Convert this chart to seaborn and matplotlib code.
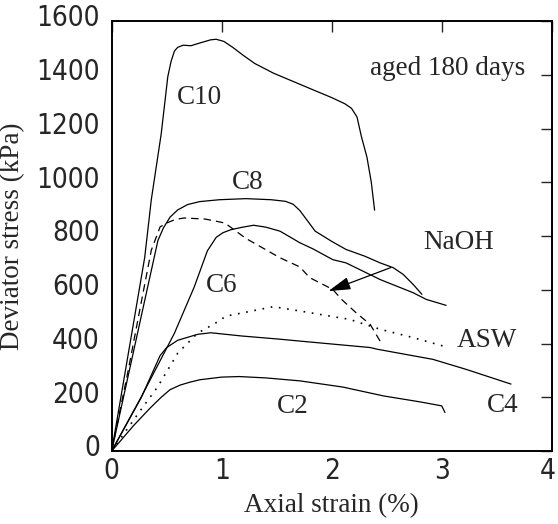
import matplotlib
matplotlib.use("Agg")
import matplotlib.pyplot as plt
import matplotlib.transforms as mtransforms
from matplotlib import font_manager
from matplotlib.font_manager import FontProperties
import pandas as pd
import seaborn as sns

# Stress-strain curves (axial strain %, deviator stress kPa)
c10_strain = [0, 0.1, 0.2, 0.3, 0.36, 0.45, 0.51, 0.54, 0.57, 0.6, 0.65, 0.72, 0.8, 0.9, 0.95, 1.02,
              1.1, 1.19, 1.3, 1.47, 1.65, 1.83, 2.0, 2.12, 2.18, 2.23, 2.27, 2.32, 2.36, 2.39]
c10_stress = [0, 240, 480, 720, 935, 1180, 1393, 1450, 1488, 1502, 1510, 1508, 1518, 1530, 1532, 1524,
              1502, 1474, 1442, 1406, 1375, 1344, 1315, 1292, 1275, 1243, 1170, 1094, 1000, 896]

c8_strain = [0, 0.15, 0.3, 0.42, 0.47, 0.53, 0.6, 0.69, 0.8, 0.98, 1.22, 1.45, 1.58, 1.65, 1.71,
             1.77, 1.85, 2.0, 2.13, 2.3, 2.44, 2.56, 2.65, 2.74, 2.82]
c8_stress = [0, 280, 560, 783, 830, 870, 897, 917, 928, 935, 939, 935, 929, 918, 895,
             862, 818, 780, 750, 725, 700, 682, 657, 620, 583]

naoh_strain = [0, 0.15, 0.3, 0.36, 0.44, 0.51, 0.58, 0.66, 0.85, 0.95, 1.03, 1.22, 1.53, 1.71,
               1.8, 2.01, 2.09, 2.22, 2.35, 2.44]
naoh_stress = [0, 300, 620, 747, 834, 850, 862, 867, 863, 855, 848, 791, 719, 685,
               645, 601, 564, 515, 471, 409]

c6_strain = [0, 0.27, 0.57, 0.75, 0.87, 0.95, 1.01, 1.08, 1.18, 1.29, 1.4, 1.53, 1.71, 1.83,
             2.01, 2.13, 2.44, 2.74, 2.86, 3.04]
c6_stress = [0, 202, 438, 610, 745, 795, 812, 823, 832, 840, 833, 818, 775, 752,
             712, 700, 638, 589, 564, 542]

asw_strain = [0, 0.24, 0.42, 0.6, 0.78, 0.94, 1.04, 1.24, 1.47, 1.53, 1.71, 2.07, 2.16, 2.44,
              2.74, 3.01]
asw_stress = [0, 139, 240, 364, 438, 475, 502, 518, 537, 533, 521, 496, 490, 453,
              422, 391]

c4_strain = [0, 0.27, 0.44, 0.5, 0.6, 0.78, 0.9, 1.18, 1.53, 1.71, 2.35, 2.41, 2.92, 3.22, 3.63]
c4_stress = [0, 200, 355, 385, 412, 434, 440, 428, 416, 409, 385, 379, 341, 304, 249]

c2_strain = [0, 0.2, 0.35, 0.45, 0.53, 0.62, 0.71, 0.8, 1.0, 1.16, 1.4, 1.71, 2.1, 2.47, 2.8, 3.0, 3.03]
c2_stress = [0, 95, 160, 200, 228, 245, 256, 265, 275, 277, 272, 261, 238, 205, 183, 168, 143]

curve_names = ["C10", "C8", "NaOH", "C6", "ASW", "C4", "C2"]
x_ticks = [0, 1, 2, 3, 4]
y_ticks = [0, 200, 400, 600, 800, 1000, 1200, 1400, 1600]

sns.set_style("white")
serif = "Liberation Serif"
plt.rcParams["font.family"] = [serif, "DejaVu Serif"]


def narrow_sans(size):
    """Pick a narrow sans-serif face for the tick numbers."""
    for f in font_manager.fontManager.ttflist:
        if f.name == "Liberation Sans Narrow" and f.style == "normal" and f.weight in (400, "normal", "regular"):
            return FontProperties(fname=f.fname, size=size)
    for f in font_manager.fontManager.ttflist:
        if f.name == "DejaVu Sans" and f.stretch == "condensed" and f.style == "normal" \
                and f.weight in (400, "normal", "regular", "book"):
            return FontProperties(fname=f.fname, size=size)
    return FontProperties(family="Liberation Sans", size=size - 2)


frames = []
for name, xs, ys in zip(curve_names,
                        [c10_strain, c8_strain, naoh_strain, c6_strain, asw_strain, c4_strain, c2_strain],
                        [c10_stress, c8_stress, naoh_stress, c6_stress, asw_stress, c4_stress, c2_stress]):
    frames.append(pd.DataFrame({"strain": xs, "stress": ys, "curve": name}))
df = pd.concat(frames, ignore_index=True)

fig = plt.figure(figsize=(5.58, 5.24), dpi=100)
ax = fig.add_axes([111.7 / 558, (524 - 451) / 524, 440 / 558, 430 / 524])

styles = {
    "C10": "-", "C8": "-", "C6": "-", "C4": "-", "C2": "-",
    "NaOH": (0, (6, 4)),
    "ASW": (0, (1, 4)),
}
for name in curve_names:
    sub = df[df["curve"] == name]
    sns.lineplot(data=sub, x="strain", y="stress", ax=ax, color="black",
                 linewidth=1.2 if name == "ASW" else 0.9, sort=False,
                 estimator=None, linestyle=styles[name], legend=False)

ax.set_xlim(0, 4)
ax.set_ylim(0, 1600)
ax.set_xticks(x_ticks)
ax.set_yticks(y_ticks)
tick_fp = narrow_sans(20)
ax.set_xticklabels([str(v) for v in x_ticks], fontproperties=tick_fp)
ax.set_yticklabels([str(v) for v in y_ticks], fontproperties=tick_fp)
ax.tick_params(axis="both", direction="in", length=8, width=1.0,
               top=True, right=True, labeltop=False, labelright=False)
ax.tick_params(axis="y", pad=8.5)
ax.tick_params(axis="x", pad=4)
shift = mtransforms.ScaledTranslation(0, 4 / 72, fig.dpi_scale_trans)
for lab in ax.get_yticklabels():
    lab.set_transform(lab.get_transform() + shift)
# keep the last strain label inside the figure edge
last = ax.get_xticklabels()[-1]
last.set_transform(last.get_transform()
                   + mtransforms.ScaledTranslation(-3 / 72, 0, fig.dpi_scale_trans))

for sp in ax.spines.values():
    sp.set_visible(True)
    sp.set_color("black")
    sp.set_linewidth(1.4)

ax.set_xlabel("Axial strain (%)", fontsize=19.5, labelpad=6)
ax.set_ylabel("Deviator stress (kPa)", fontsize=19.5, labelpad=8)

label_pos = {
    "C10": (0.80, 1316), "C8": (1.24, 1000), "C6": (1.0, 617),
    "ASW": (3.41, 413), "C2": (1.65, 164), "C4": (3.55, 171),
}
for name, (tx, ty) in label_pos.items():
    ax.text(tx, ty, name, fontsize=19.5, ha="center", va="center")
ax.text(3.05, 1424, "aged 180 days", fontsize=19.5, ha="center", va="center")

ax.annotate("NaOH", xy=(1.97, 595), xytext=(3.15, 777), fontsize=19.5,
            ha="center", va="center",
            arrowprops=dict(arrowstyle="-|>,head_length=0.7,head_width=0.2",
                            color="black", lw=0.9, shrinkA=22, shrinkB=0))

fig.savefig("out.png", dpi=100)
